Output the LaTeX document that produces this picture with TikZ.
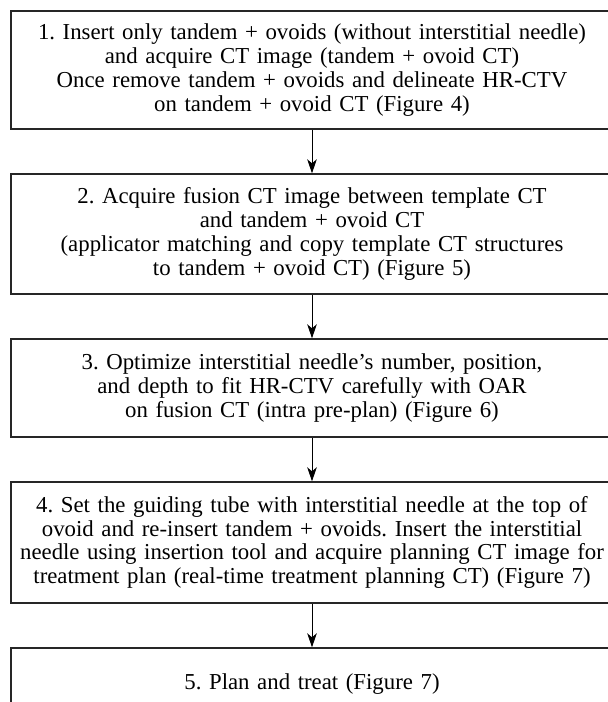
\documentclass[tikz,border=0pt]{standalone}
\usepackage{fontspec}
\setmainfont{Liberation Serif}
\usetikzlibrary{arrows.meta}

\begin{document}
\frenchspacing
\begin{tikzpicture}[x=0.5pt, y=-0.5pt, >={Stealth[length=7pt,width=4.8pt,inset=2pt]},
    stepbox/.style={draw=black!85, line width=0.7pt, minimum width=301pt, text width=300pt,
        align=center, inner sep=0pt, font=\fontsize{11.4}{11.9}\selectfont}]

    \useasboundingbox (0,0) rectangle (608,702);
    \clip (0,0) rectangle (608,702);

    % the five steps, top to bottom
    \node[stepbox, minimum height=59pt] (s1) at (312,70)
        {1. Insert only tandem + ovoids (without interstitial needle)\\
         and acquire CT image (tandem + ovoid CT)\\
         Once remove tandem + ovoids and delineate HR-CTV\\
         on tandem + ovoid CT (Figure 4)};
    \node[stepbox, minimum height=60pt] (s2) at (312,234)
        {2. Acquire fusion CT image between template CT\\
         and tandem + ovoid CT\\
         (applicator matching and copy template CT structures\\
         to tandem + ovoid CT) (Figure 5)};
    \node[stepbox, minimum height=49pt] (s3) at (312,388)
        {3. Optimize interstitial needle’s number, position,\\
         and depth to fit HR-CTV carefully with OAR\\
         on fusion CT (intra pre-plan) (Figure 6)};
    \node[stepbox, minimum height=60.5pt] (s4) at (312,542.5)
        {4. Set the guiding tube with interstitial needle at the top of\\
         ovoid and re-insert tandem + ovoids. Insert the interstitial\\
         needle using insertion tool and acquire planning CT image for\\
         treatment plan (real-time treatment planning CT) (Figure 7)};
    \node[stepbox, minimum height=36pt] (s5) at (312,684)
        {5. Plan and treat (Figure 7)};

    % connectors
    \draw[->, line width=0.5pt] (s1) -- (s2);
    \draw[->, line width=0.5pt] (s2) -- (s3);
    \draw[->, line width=0.5pt] (s3) -- (s4);
    \draw[->, line width=0.5pt] (s4) -- (s5);

\end{tikzpicture}
\end{document}
